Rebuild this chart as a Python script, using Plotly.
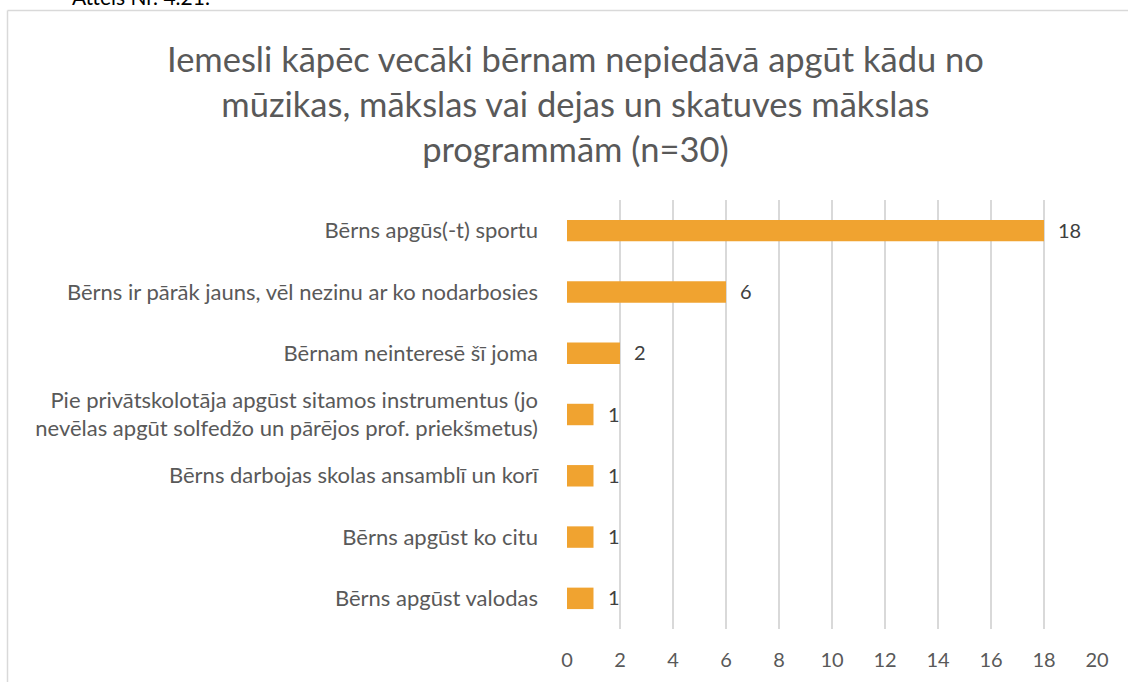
import plotly.graph_objects as go

categories = [
    "Bērns apgūs(-t) sportu",
    "Bērns ir pārāk jauns, vēl nezinu ar ko nodarbosies",
    "Bērnam neinteresē šī joma",
    "Pie privātskolotāja apgūst sitamos instrumentus (jo<br>nevēlas apgūt solfedžo un pārējos prof. priekšmetus)",
    "Bērns darbojas skolas ansamblī un korī",
    "Bērns apgūst ko citu",
    "Bērns apgūst valodas",
]
values = [18, 6, 2, 1, 1, 1, 1]
tick_vals = [0, 2, 4, 6, 8, 10, 12, 14, 16, 18, 20]
tick_text = ["0", "2", "4", "6", "8", "10", "12", "14", "16", "18", "20"]

title_text = ("Iemesli kāpēc vecāki bērnam nepiedāvā apgūt kādu no<br>"
              "mūzikas, mākslas vai dejas un skatuves mākslas<br>"
              "programmām (n=30)")

FONT = "Lato, 'Open Sans', sans-serif"
W, H = 1128, 682
L, R, T, B = 567, 31, 200, 53
pw = W - L - R
ph = H - T - B

fig = go.Figure(go.Bar(
    x=values, y=categories, orientation="h",
    marker=dict(color="#F0A330", line=dict(width=0)),
    width=0.35,
    hoverinfo="x+y",
))

annotations = [
    dict(text="Attēls Nr. 4.21.", xref="paper", yref="paper",
         x=(70 - L) / pw, xanchor="left",
         y=(H - 11 - B) / ph, yanchor="bottom",
         showarrow=False, font=dict(size=21, color="#000000", family=FONT)),
    dict(text=title_text, xref="paper", yref="paper",
         x=(575 - L) / pw, xanchor="center",
         y=(H - 103 - B) / ph, yanchor="middle",
         showarrow=False, align="center",
         font=dict(size=34.5, color="#595959", family=FONT)),
]
for c, v in zip(categories, values):
    annotations.append(dict(
        x=v, y=c, xref="x", yref="y", text=str(v), showarrow=False,
        xanchor="left", xshift=12, yshift=1,
        font=dict(size=20, color="#404040", family=FONT)))

fig.update_layout(
    width=W, height=H,
    margin=dict(l=L, r=R, t=T, b=B),
    paper_bgcolor="white", plot_bgcolor="white",
    font=dict(family=FONT, color="#595959"),
    showlegend=False,
    xaxis=dict(range=[0, 20], tickvals=tick_vals, ticktext=tick_text,
               showgrid=True, gridcolor="#d9d9d9", gridwidth=1.5,
               zeroline=False, showline=False, ticks="", automargin=False,
               tickfont=dict(size=20, color="#595959"), ticklabelstandoff=17),
    yaxis=dict(autorange="reversed", showgrid=False, zeroline=False,
               showline=False, ticks="", ticklabelstandoff=28, automargin=False,
               tickfont=dict(size=22, color="#595959")),
    shapes=[
        dict(type="line", xref="paper", yref="paper",
             x0=(7.5 - L) / pw, x1=(W + 5 - L) / pw,
             y0=(H - 10.5 - B) / ph, y1=(H - 10.5 - B) / ph,
             line=dict(color="#d9d9d9", width=1.5)),
        dict(type="line", xref="paper", yref="paper",
             x0=(7.5 - L) / pw, x1=(7.5 - L) / pw,
             y0=(H - 10.5 - B) / ph, y1=(-B - 5) / ph,
             line=dict(color="#d9d9d9", width=1.5)),
    ],
    annotations=annotations,
)

fig.write_html("out.html", config={"displayModeBar": False},
               post_script="document.body.style.margin='0';document.body.style.overflow='hidden';")
